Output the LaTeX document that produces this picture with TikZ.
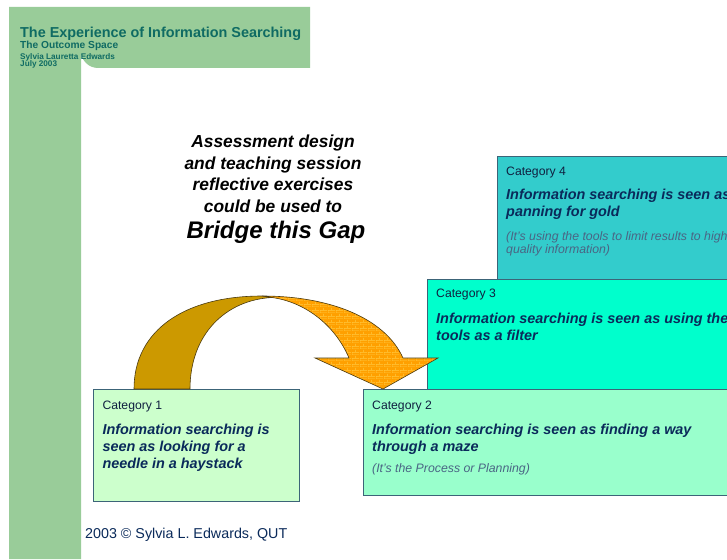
\documentclass[tikz,border=0pt]{standalone}
\usepackage{fontspec}
\setmainfont{Liberation Sans}
\usetikzlibrary{patterns}
\definecolor{bandgreen}{HTML}{99CC99}
\definecolor{titleteal}{HTML}{0F6B63}
\definecolor{boxline}{HTML}{3C6478}
\definecolor{cfour}{HTML}{33CCCC}
\definecolor{cthree}{HTML}{00FFCC}
\definecolor{ctwo}{HTML}{99FFCC}
\definecolor{cone}{HTML}{CCFFCC}
\definecolor{navytext}{HTML}{0A2A5A}
\definecolor{labeltext}{HTML}{102040}
\definecolor{notetext}{HTML}{4A6584}
\definecolor{archback}{HTML}{CC9900}
\definecolor{archfront}{HTML}{FFA000}
\definecolor{brickline}{HTML}{FFC840}
\definecolor{archedge}{HTML}{4A3A10}
\pgfdeclarepatternformonly{minibricks}{\pgfpointorigin}{\pgfpoint{8pt}{6pt}}{\pgfpoint{8pt}{6pt}}{%
  \pgfsetlinewidth{0.6pt}%
  \pgfpathmoveto{\pgfpoint{0pt}{0pt}}\pgfpathlineto{\pgfpoint{8pt}{0pt}}%
  \pgfpathmoveto{\pgfpoint{0pt}{3pt}}\pgfpathlineto{\pgfpoint{8pt}{3pt}}%
  \pgfpathmoveto{\pgfpoint{0pt}{0pt}}\pgfpathlineto{\pgfpoint{0pt}{3pt}}%
  \pgfpathmoveto{\pgfpoint{4pt}{3pt}}\pgfpathlineto{\pgfpoint{4pt}{6pt}}%
  \pgfusepath{stroke}}
\tikzset{
  catbox/.style={draw=boxline, line width=0.8pt, inner sep=0pt, anchor=north west},
  catlabel/.style={anchor=base west, inner sep=0pt, text=labeltext, font=\fontsize{12.2}{14}\selectfont},
  catmain/.style={anchor=base west, inner sep=0pt, align=left, text=navytext, font=\fontsize{14.4}{17.2}\selectfont\bfseries\itshape},
  catnote/.style={anchor=base west, inner sep=0pt, align=left, text=notetext, font=\fontsize{12.3}{12.8}\selectfont\itshape},
  headtext/.style={anchor=base west, inner sep=0pt, text=titleteal},
}
\begin{document}
\begin{tikzpicture}[x=1pt,y=-1pt]
\useasboundingbox (0,0) rectangle (727,559);
\clip (0,0) rectangle (727,559);
\fill[white] (0,0) rectangle (727,559);
% green L-shaped band
\fill[bandgreen] (9,7) -- (310,7) -- (310,68) -- (98,68) arc[start angle=90, end angle=180, x radius=17pt, y radius=-17pt] -- (81,559) -- (9,559) -- cycle;
% heading
\node[headtext, font=\fontsize{14.4}{16}\selectfont\bfseries] (title) at (20,37.7) {The Experience of Information Searching};
\node[headtext, font=\fontsize{10.2}{12}\selectfont\bfseries] (sub) at (20,49) {The Outcome Space};
\node[headtext, font=\fontsize{8.2}{9}\selectfont\bfseries] (author) at (20,59.3) {Sylvia Lauretta Edwards};
\node[headtext, font=\fontsize{8.2}{9}\selectfont\bfseries] (date) at (20,66.5) {July 2003};
% central text (base anchor = last line)
\node[anchor=base, inner sep=0pt, align=center, font=\fontsize{17.4}{21.8}\selectfont\bfseries\itshape] (gaptext) at (273,212.7) {Assessment design\\and teaching session\\reflective exercises\\could be used to};
\node[anchor=base, inner sep=0pt, font=\fontsize{24}{26}\selectfont\bfseries\itshape] (gap) at (276,238.3) {Bridge this Gap};
% category boxes
\node[catbox, fill=cfour, minimum width=300pt, minimum height=150pt] (c4) at (497,156) {};
\node[catlabel] (c4l) at (506,175) {Category 4};
\node[catmain] (c4m) at (506,216.2) {Information searching is seen as\\panning for gold};
\node[catnote] (c4n) at (506,253.5) {(It's using the tools to limit results to high\\quality information)};
\node[catbox, fill=cthree, minimum width=340pt, minimum height=130pt] (c3) at (427,279) {};
\node[catlabel] (c3l) at (436,297.3) {Category 3};
\node[catmain] (c3m) at (436,340.5) {Information searching is seen as using the\\tools as a filter};
\node[catbox, fill=ctwo, minimum width=400pt, minimum height=106pt] (c2) at (363,389) {};
\node[catlabel] (c2l) at (372,409.3) {Category 2};
\node[catmain] (c2m) at (372,451.2) {Information searching is seen as finding a way\\through a maze};
\node[catnote] (c2n) at (372,472.7) {(It's the Process or Planning)};
\node[catbox, fill=cone, minimum width=206pt, minimum height=112pt] (c1) at (93,389) {};
\node[catlabel] (c1l) at (102.3,409.3) {Category 1};
\node[catmain] (c1m) at (102.3,468.4) {Information searching is\\seen as looking for a\\needle in a haystack};
% bridging arrow
\draw[archedge, line width=0.6pt, fill=archback] (134,389) .. controls (134,330) and (185,296) .. (262,296) -- (272,297.5) .. controls (225,300) and (190,335) .. (190,389) -- cycle;
\fill[archfront] (262,296) .. controls (330,296) and (385,318) .. (403,358) -- (438,358) -- (383,389) -- (315,358) -- (349,358) .. controls (335,325) and (305,302) .. (272,297.5) -- cycle;
\fill[pattern=minibricks, pattern color=brickline] (262,296) .. controls (330,296) and (385,318) .. (403,358) -- (438,358) -- (383,389) -- (315,358) -- (349,358) .. controls (335,325) and (305,302) .. (272,297.5) -- cycle;
\draw[archedge, line width=0.6pt] (262,296) .. controls (330,296) and (385,318) .. (403,358) -- (438,358) -- (383,389) -- (315,358) -- (349,358) .. controls (335,325) and (305,302) .. (272,297.5) -- cycle;
% footer
\node[anchor=base west, inner sep=0pt, text=navytext, font=\fontsize{14.3}{16}\selectfont] (foot) at (85,538.3) {2003 © Sylvia L. Edwards, QUT};
\end{tikzpicture}
\end{document}
